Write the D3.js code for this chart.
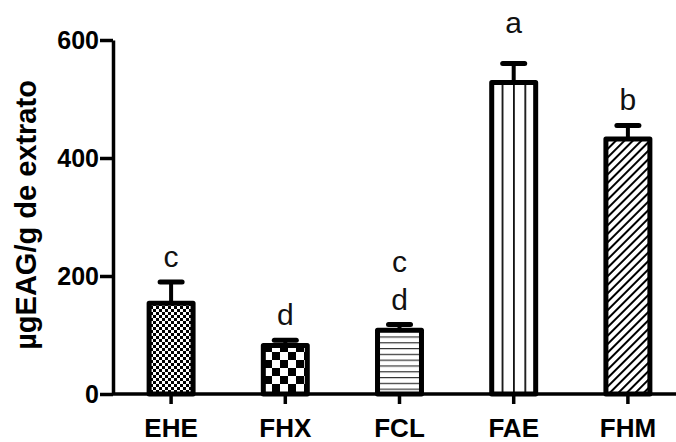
<!DOCTYPE html>
<html>
<head>
<meta charset="utf-8">
<script src="https://cdn.jsdelivr.net/npm/d3@7"></script>
<style>
  body { margin: 0; background: #fff; }
  text { font-family: Arial, "Liberation Sans", sans-serif; }
</style>
</head>
<body>
<svg id="chart" width="676" height="442"></svg>
<script>
// Data
const categories = ["EHE", "FHX", "FCL", "FAE", "FHM"];
const means = [154, 82, 108, 528, 432];
const errors = [36, 9, 10, 32, 23];
const fills = ["checkSmall", "checkBig", "hLines", "vLines", "diag"];
// significance letters and where they sit (in y units)
const letters = [["c"], ["d"], ["c", "d"], ["a"], ["b"]];
const letterValues = [[215], [117], [207, 142], [612], [481]];
const yTicks = [0, 200, 400, 600];

const svg = d3.select("#chart");

// patterns
const defs = svg.append("defs");

let p = defs.append("pattern").attr("id", "checkSmall")
  .attr("patternUnits", "userSpaceOnUse").attr("width", 6).attr("height", 6);
p.append("rect").attr("width", 6).attr("height", 6).attr("fill", "#fff");
p.append("rect").attr("width", 3).attr("height", 3).attr("fill", "#000");
p.append("rect").attr("x", 3).attr("y", 3).attr("width", 3).attr("height", 3).attr("fill", "#000");

p = defs.append("pattern").attr("id", "checkBig")
  .attr("patternUnits", "userSpaceOnUse").attr("width", 16).attr("height", 16);
p.append("rect").attr("width", 16).attr("height", 16).attr("fill", "#fff");
p.append("rect").attr("width", 8).attr("height", 8).attr("fill", "#000");
p.append("rect").attr("x", 8).attr("y", 8).attr("width", 8).attr("height", 8).attr("fill", "#000");

p = defs.append("pattern").attr("id", "hLines")
  .attr("patternUnits", "userSpaceOnUse").attr("width", 10).attr("height", 5.8);
p.append("rect").attr("width", 10).attr("height", 5.8).attr("fill", "#fff");
p.append("rect").attr("y", 0).attr("width", 10).attr("height", 1.2).attr("fill", "#333");

p = defs.append("pattern").attr("id", "vLines")
  .attr("patternUnits", "userSpaceOnUse").attr("width", 11.4).attr("height", 10);
p.append("rect").attr("width", 11.4).attr("height", 10).attr("fill", "#fff");
p.append("rect").attr("x", 0).attr("width", 1.8).attr("height", 10).attr("fill", "#111");

p = defs.append("pattern").attr("id", "diag")
  .attr("patternUnits", "userSpaceOnUse").attr("width", 6).attr("height", 6)
  .attr("patternTransform", "rotate(45)");
p.append("rect").attr("width", 6).attr("height", 6).attr("fill", "#fff");
p.append("rect").attr("x", 0).attr("width", 2).attr("height", 6).attr("fill", "#000");

// scales
const x = d3.scaleBand()
  .domain(categories)
  .range([114, 685])
  .paddingInner(0.615)
  .paddingOuter(0.3075);

const y = d3.scaleLinear()
  .domain([0, 600])
  .range([394, 40]);

// bars
const bars = svg.append("g");
bars.selectAll("rect")
  .data(categories)
  .enter()
  .append("rect")
    .attr("x", d => x(d))
    .attr("y", (d, i) => y(means[i]))
    .attr("width", x.bandwidth())
    .attr("height", (d, i) => y(0) - y(means[i]))
    .attr("fill", (d, i) => "url(#" + fills[i] + ")")
    .attr("stroke", "#000")
    .attr("stroke-width", 5)
    .attr("stroke-linejoin", "round");

// error bars (upper only)
const err = svg.append("g").attr("stroke", "#000").attr("stroke-linecap", "round");
categories.forEach(function(c, i) {
  const cx = x(c) + x.bandwidth() / 2;
  err.append("line")
    .attr("x1", cx).attr("x2", cx)
    .attr("y1", y(means[i])).attr("y2", y(means[i] + errors[i]))
    .attr("stroke-width", 4);
  err.append("line")
    .attr("x1", cx - 11).attr("x2", cx + 11)
    .attr("y1", y(means[i] + errors[i])).attr("y2", y(means[i] + errors[i]))
    .attr("stroke-width", 5);
});

// letters
const lab = svg.append("g");
categories.forEach(function(c, i) {
  letters[i].forEach(function(l, j) {
    lab.append("text")
      .attr("x", x(c) + x.bandwidth() / 2)
      .attr("y", y(letterValues[i][j]))
      .attr("text-anchor", "middle")
      .style("font-size", "30px")
      .attr("fill", "#111")
      .text(l);
  });
});

// y axis
const yAxis = svg.append("g")
  .attr("transform", "translate(113,0)")
  .call(d3.axisLeft(y).tickValues(yTicks).tickSize(13).tickSizeOuter(0).tickPadding(1));
yAxis.select(".domain").attr("stroke-width", 3.5);
yAxis.selectAll(".tick line").attr("stroke-width", 3.5);
yAxis.selectAll(".tick text")
  .style("font-size", "25px").style("font-weight", "bold")
  .style("font-family", "Arial, 'Liberation Sans', sans-serif").attr("fill", "#000");

// x axis
const xAxis = svg.append("g")
  .attr("transform", "translate(0,394)")
  .call(d3.axisBottom(x).tickSize(10).tickSizeOuter(0).tickPadding(20));
xAxis.select(".domain").attr("d", "M113,0H676").attr("stroke-width", 3.5);
xAxis.selectAll(".tick line").attr("stroke-width", 3.5);
xAxis.selectAll(".tick text")
  .style("font-size", "26px").style("font-weight", "bold")
  .style("font-family", "Arial, 'Liberation Sans', sans-serif").attr("fill", "#000")
  .attr("dy", null).attr("y", 43);

// y label
svg.append("text")
  .attr("transform", "translate(36,215) rotate(-90)")
  .attr("text-anchor", "middle")
  .style("font-size", "29px")
  .style("font-weight", "bold")
  .text("µgEAG/g de extrato");
</script>
</body>
</html>
